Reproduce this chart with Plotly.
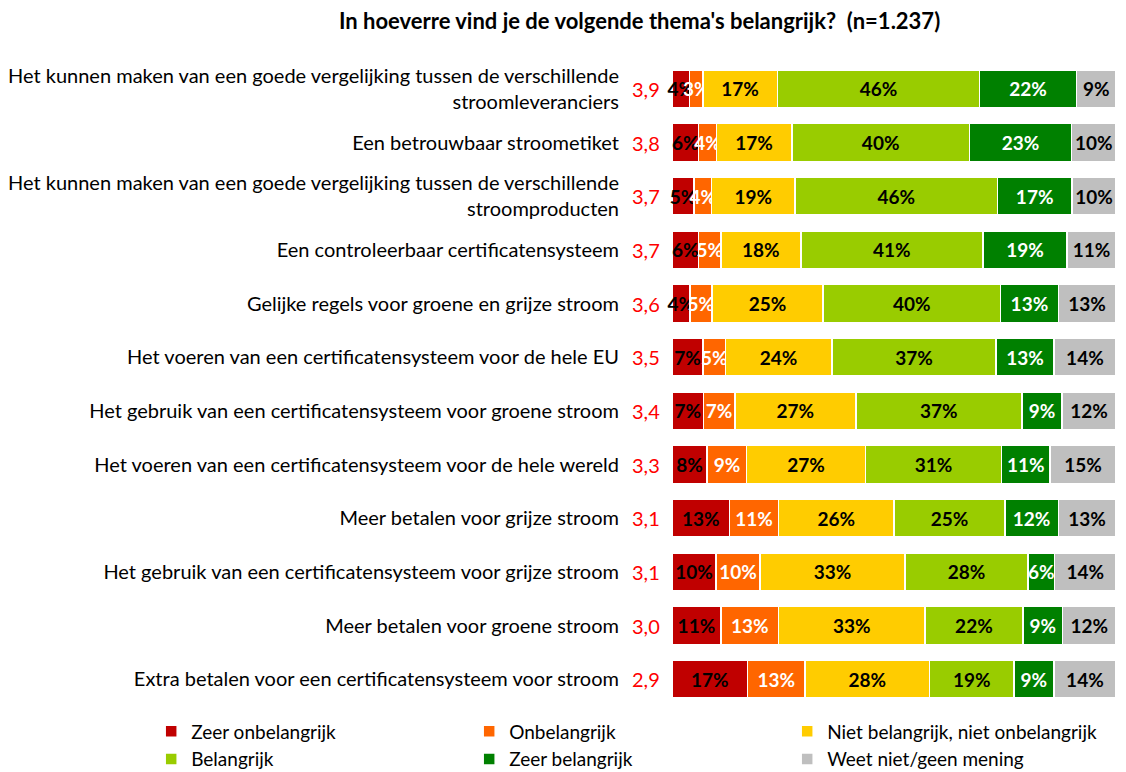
import plotly.graph_objects as go

categories = [
    "Het kunnen maken van een goede vergelijking tussen de verschillende<br>stroomleveranciers",
    "Een betrouwbaar stroometiket",
    "Het kunnen maken van een goede vergelijking tussen de verschillende<br>stroomproducten",
    "Een controleerbaar certificatensysteem",
    "Gelijke regels voor groene en grijze stroom",
    "Het voeren van een certificatensysteem voor de hele EU",
    "Het gebruik van een certificatensysteem voor groene stroom",
    "Het voeren van een certificatensysteem voor de hele wereld",
    "Meer betalen voor grijze stroom",
    "Het gebruik van een certificatensysteem voor grijze stroom",
    "Meer betalen voor groene stroom",
    "Extra betalen voor een certificatensysteem voor stroom",
]
scores = ["3,9", "3,8", "3,7", "3,7", "3,6", "3,5", "3,4", "3,3", "3,1", "3,1", "3,0", "2,9"]

zeer_onbelangrijk = [4, 6, 5, 6, 4, 7, 7, 8, 13, 10, 11, 17]
onbelangrijk = [3, 4, 4, 5, 5, 5, 7, 9, 11, 10, 13, 13]
niet_niet = [17, 17, 19, 18, 25, 24, 27, 27, 26, 33, 33, 28]
belangrijk = [46, 40, 46, 41, 40, 37, 37, 31, 25, 28, 22, 19]
zeer_belangrijk = [22, 23, 17, 19, 13, 13, 9, 11, 12, 6, 9, 9]
weet_niet = [9, 10, 10, 11, 13, 14, 12, 15, 13, 14, 12, 14]

series = [
    ("Zeer onbelangrijk", zeer_onbelangrijk, "#C00000", "black"),
    ("Onbelangrijk", onbelangrijk, "#FF6600", "white"),
    ("Niet belangrijk, niet onbelangrijk", niet_niet, "#FFCC00", "black"),
    ("Belangrijk", belangrijk, "#99CC00", "black"),
    ("Zeer belangrijk", zeer_belangrijk, "#008000", "white"),
    ("Weet niet/geen mening", weet_niet, "#BFBFBF", "black"),
]

FONT = "Lato, Liberation Sans, sans-serif"
ids = list(range(len(categories)))

fig = go.Figure()
for name, vals, color, tcolor in series:
    fig.add_trace(go.Bar(
        name=name, y=ids, x=vals, orientation="h",
        marker=dict(color=color, line=dict(color="white", width=1.5)),
        text=[f"{v}%" for v in vals], textposition="inside",
        insidetextanchor="middle", textangle=0, constraintext="none",
        textfont=dict(color=tcolor, size=19, family=FONT, weight="bold"),
        cliponaxis=False,
    ))

for i, s in zip(ids, scores):
    fig.add_annotation(x=0, y=i, xref="paper", yref="y", text=s, showarrow=False,
                       xanchor="right", xshift=-10,
                       font=dict(color="#FF0000", size=20, family=FONT))

fig.update_layout(
    barmode="stack", barnorm="percent", bargap=0.29,
    width=1126, height=772,
    margin=dict(l=672, r=10, t=62, b=66, autoexpand=False),
    paper_bgcolor="white", plot_bgcolor="white",
    title=dict(text="<b>In hoeverre vind je de volgende thema's belangrijk?  (n=1.237)</b>",
               x=0.568, xanchor="center", y=0.972, yanchor="middle",
               font=dict(size=22, family=FONT, color="black")),
    uniformtext=dict(minsize=19, mode="show"),
    xaxis=dict(visible=False, range=[0, 100.001]),
    yaxis=dict(tickmode="array", tickvals=ids, ticktext=categories, autorange="reversed",
               showgrid=False, zeroline=False, showline=False, ticks="",
               ticklabelstandoff=52,
               tickfont=dict(size=20, family=FONT, color="black")),
    legend=dict(orientation="h", x=-1.173, xanchor="left", y=-0.01, yanchor="top",
                entrywidth=273, traceorder="normal", tracegroupgap=0,
                font=dict(size=19, family=FONT, color="black")),
    showlegend=True,
)

fig.write_html("out.html", config={"displayModeBar": False},
               post_script="document.body.style.margin='0';document.body.style.overflow='hidden';")
